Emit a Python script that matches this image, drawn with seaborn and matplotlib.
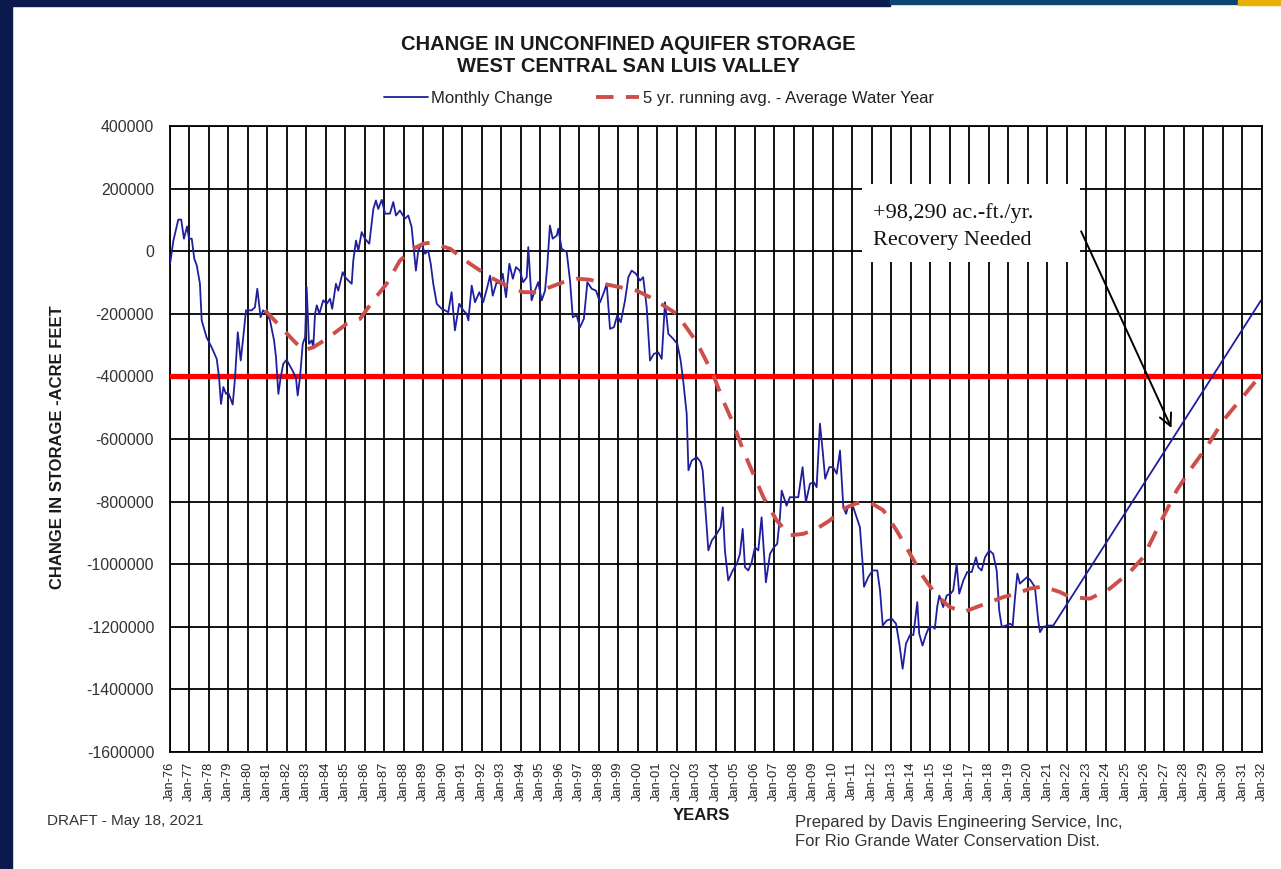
import matplotlib
matplotlib.use("Agg")
import matplotlib.pyplot as plt
import numpy as np
import pandas as pd
import seaborn as sns
from matplotlib.patches import Rectangle

# monthly change in storage (decimal year, acre-feet)
month_year = [
    1976.03, 1976.2, 1976.45, 1976.6, 1976.74, 1976.9, 1977.0, 1977.14, 1977.27, 1977.4,
    1977.56, 1977.65, 1977.9, 1978.16, 1978.42, 1978.54, 1978.64, 1978.76, 1978.9, 1979.0,
    1979.1, 1979.24, 1979.36, 1979.5, 1979.65, 1979.78, 1979.92, 1980.21, 1980.38, 1980.5,
    1980.67, 1980.8, 1981.0, 1981.15, 1981.36, 1981.46, 1981.58, 1981.7, 1981.83, 1982.0,
    1982.26, 1982.48, 1982.57, 1982.69, 1982.83, 1982.95, 1983.03, 1983.15, 1983.29, 1983.37,
    1983.46, 1983.55, 1983.68, 1983.88, 1984.06, 1984.23, 1984.34, 1984.53, 1984.65, 1984.88,
    1985.0, 1985.17, 1985.34, 1985.42, 1985.56, 1985.68, 1985.85, 1986.02, 1986.24, 1986.45,
    1986.58, 1986.7, 1986.88, 1987.05, 1987.3, 1987.47, 1987.61, 1987.81, 1988.07, 1988.24,
    1988.41, 1988.53, 1988.63, 1988.75, 1988.92, 1989.1, 1989.26, 1989.39, 1989.52, 1989.7,
    1989.95, 1990.12, 1990.29, 1990.46, 1990.63, 1990.85, 1991.06, 1991.23, 1991.32, 1991.49,
    1991.66, 1991.88, 1992.08, 1992.29, 1992.43, 1992.57, 1992.77, 1992.94, 1993.08, 1993.25,
    1993.42, 1993.6, 1993.76, 1993.96, 1994.13, 1994.31, 1994.39, 1994.56, 1994.73, 1994.9,
    1995.08, 1995.25, 1995.36, 1995.5, 1995.64, 1995.85, 1995.93, 1996.1, 1996.36, 1996.53,
    1996.67, 1996.87, 1997.04, 1997.24, 1997.42, 1997.64, 1997.86, 1998.07, 1998.27, 1998.41,
    1998.58, 1998.78, 1998.95, 1999.13, 1999.35, 1999.52, 1999.69, 1999.91, 2000.12, 2000.28,
    2000.46, 2000.63, 2000.83, 2001.05, 2001.23, 2001.4, 2001.57, 2001.82, 2002.03, 2002.2,
    2002.33, 2002.51, 2002.6, 2002.77, 2003.03, 2003.23, 2003.33, 2003.45, 2003.62, 2003.8,
    2004.05, 2004.25, 2004.36, 2004.47, 2004.64, 2004.87, 2005.08, 2005.24, 2005.38, 2005.5,
    2005.67, 2005.84, 2006.01, 2006.18, 2006.35, 2006.57, 2006.78, 2006.98, 2007.15, 2007.29,
    2007.38, 2007.63, 2007.8, 2008.23, 2008.45, 2008.62, 2008.83, 2009.03, 2009.17, 2009.34,
    2009.48, 2009.61, 2009.82, 2010.02, 2010.2, 2010.37, 2010.54, 2010.68, 2010.79, 2011.05,
    2011.22, 2011.39, 2011.53, 2011.6, 2011.82, 2012.04, 2012.28, 2012.42, 2012.56, 2012.76,
    2013.02, 2013.24, 2013.41, 2013.58, 2013.75, 2013.96, 2014.13, 2014.33, 2014.43, 2014.6,
    2014.77, 2014.94, 2015.12, 2015.23, 2015.35, 2015.46, 2015.66, 2015.84, 2016.04, 2016.17,
    2016.35, 2016.48, 2016.69, 2016.89, 2017.12, 2017.34, 2017.46, 2017.63, 2017.8, 2018.02,
    2018.22, 2018.4, 2018.53, 2018.66, 2018.88, 2019.08, 2019.22, 2019.34, 2019.46, 2019.59,
    2019.76, 2019.97, 2020.14, 2020.36, 2020.53, 2020.62, 2020.79, 2021.04, 2021.3, 2031.95,
]
monthly_change = [
    -40000, 34000, 101000, 101000, 40000, 79000, 40000, 40000, -24000, -46000,
    -104000, -221000, -275000, -307000, -344000, -403000, -488000, -434000, -456000, -450000,
    -466000, -490000, -403000, -259000, -349000, -275000, -189000, -189000, -179000, -120000,
    -211000, -189000, -200000, -221000, -285000, -339000, -456000, -403000, -360000, -347000,
    -376000, -403000, -461000, -403000, -296000, -275000, -115000, -296000, -285000, -307000,
    -200000, -173000, -200000, -157000, -168000, -152000, -184000, -104000, -126000, -67000,
    -83000, -94000, -104000, -30000, 34000, 2000, 61000, 40000, 24000, 135000,
    162000, 135000, 164000, 120000, 120000, 157000, 114000, 130000, 104000, 114000,
    77000, 2000, -62000, 2000, 24000, -8000, 2000, -40000, -104000, -168000,
    -184000, -189000, -195000, -131000, -253000, -168000, -189000, -200000, -221000, -110000,
    -163000, -131000, -163000, -115000, -78000, -142000, -99000, -104000, -72000, -147000,
    -40000, -88000, -51000, -62000, -99000, -83000, 13000, -157000, -126000, -99000,
    -157000, -126000, -51000, 82000, 40000, 50000, 72000, 8000, -3000, -94000,
    -211000, -205000, -243000, -216000, -99000, -120000, -126000, -163000, -131000, -104000,
    -248000, -243000, -205000, -227000, -157000, -83000, -62000, -72000, -94000, -83000,
    -179000, -349000, -328000, -323000, -344000, -163000, -264000, -280000, -296000, -349000,
    -413000, -519000, -700000, -669000, -658000, -674000, -700000, -807000, -956000, -924000,
    -903000, -882000, -818000, -956000, -1052000, -1020000, -999000, -967000, -887000, -1010000,
    -1020000, -994000, -946000, -956000, -850000, -1058000, -967000, -946000, -935000, -850000,
    -765000, -813000, -786000, -786000, -690000, -802000, -743000, -738000, -754000, -551000,
    -637000, -727000, -690000, -690000, -711000, -637000, -818000, -839000, -813000, -818000,
    -850000, -882000, -999000, -1072000, -1041000, -1020000, -1020000, -1084000, -1196000, -1180000,
    -1174000, -1190000, -1254000, -1334000, -1254000, -1226000, -1226000, -1121000, -1222000, -1260000,
    -1226000, -1200000, -1200000, -1206000, -1137000, -1100000, -1137000, -1100000, -1094000, -1084000,
    -999000, -1094000, -1052000, -1025000, -1025000, -978000, -1010000, -1020000, -978000, -956000,
    -967000, -1020000, -1148000, -1200000, -1196000, -1190000, -1196000, -1105000, -1030000, -1062000,
    -1052000, -1041000, -1052000, -1073000, -1180000, -1217000, -1200000, -1196000, -1196000, -157000,
]

# 5 yr running average, average water year projection
avg_year = [
    1980.9, 1982.35, 1982.86, 1983.37, 1984.06, 1985.08, 1985.77, 1986.45, 1987.13, 1987.81,
    1988.5, 1989.01, 1989.35, 1990.38, 1991.4, 1992.43, 1993.45, 1994.13, 1994.82, 1995.5,
    1996.18, 1996.87, 1997.55, 1998.23, 1999.09, 1999.95, 2000.63, 2001.31, 2002.0, 2003.02,
    2003.87, 2004.38, 2004.9, 2005.41, 2005.92, 2006.44, 2007.12, 2007.8, 2008.49, 2009.17,
    2009.85, 2010.54, 2011.22, 2011.9, 2012.59, 2013.27, 2013.96, 2014.64, 2015.32, 2016.0,
    2016.69, 2017.37, 2018.05, 2018.74, 2019.42, 2020.1, 2020.79, 2021.64, 2022.16, 2023.18,
    2024.2, 2025.23, 2025.91, 2026.76, 2027.62, 2028.3, 2029.16, 2030.01, 2030.86, 2032.0,
]
avg_value = [
    -189000, -285000, -317000, -307000, -280000, -232000, -216000, -157000, -104000, -30000,
    8000, 24000, 27000, 8000, -40000, -83000, -115000, -131000, -131000, -115000,
    -99000, -88000, -91000, -104000, -115000, -126000, -147000, -173000, -200000, -290000,
    -395000, -477000, -551000, -637000, -711000, -786000, -860000, -908000, -903000, -887000,
    -860000, -823000, -805000, -802000, -828000, -892000, -967000, -1041000, -1100000, -1137000,
    -1153000, -1137000, -1121000, -1105000, -1094000, -1078000, -1071000, -1089000, -1105000, -1110000,
    -1078000, -1025000, -978000, -871000, -765000, -700000, -626000, -541000, -477000, -391000,
]

target_level = -400000
years = list(range(1976, 2033))
year_labels = [f"Jan-{y % 100:02d}" for y in years]
y_ticks = list(range(-1600000, 400001, 200000))

monthly_df = pd.DataFrame({"year": month_year, "storage": monthly_change})
avg_df = pd.DataFrame({"year": avg_year, "storage": avg_value})

sns.set_style("white")
plt.rcParams["font.family"] = ["Liberation Sans", "DejaVu Sans"]

W, H = 1281, 869
fig = plt.figure(figsize=(W / 100, H / 100), dpi=100)
fig.patch.set_facecolor("white")


def fx(px):
    return px / W


def fy(py):
    return 1 - py / H


# screenshot frame
navy = "#0a1a4c"
fig.add_artist(Rectangle((0, 0), fx(12), 1, transform=fig.transFigure, color=navy, zorder=0))
fig.add_artist(Rectangle((0, fy(6)), fx(890), fy(0) - fy(6), transform=fig.transFigure, color=navy, zorder=0))
fig.add_artist(Rectangle((fx(890), fy(4)), fx(1238 - 890), fy(0) - fy(4), transform=fig.transFigure,
                         color="#0b4570", zorder=0))
fig.add_artist(Rectangle((fx(1238), fy(5)), fx(W - 1238), fy(0) - fy(5), transform=fig.transFigure,
                         color="#e9b104", zorder=0))

ax = fig.add_axes([fx(169.5), fy(752), fx(1262 - 169.5), fy(126) - fy(752)])

ax.axhline(target_level, color="#ff0000", lw=3.8, zorder=3)

sns.lineplot(data=monthly_df, x="year", y="storage", ax=ax, color="#1f1f9e", lw=1.3,
             estimator=None, sort=False, zorder=4, label="Monthly Change")
sns.lineplot(data=avg_df, x="year", y="storage", ax=ax, color="#cc4f4a", lw=2.8,
             estimator=None, sort=False, zorder=4, dashes=False,
             label="5 yr. running avg. - Average Water Year")
ax.lines[-1].set_dashes([4.5, 3.2])

ax.set_xlim(1976, 2032)
ax.set_ylim(-1600000, 400000)
ax.set_xticks(years)
ax.set_xticklabels(year_labels, rotation=90, fontsize=9.3, color="#222222")
ax.set_yticks(y_ticks)
ax.set_yticklabels([str(v) for v in y_ticks], fontsize=11.4, color="#333333")
ax.tick_params(axis="both", direction="out", length=5, width=1, color="black", pad=2)
ax.tick_params(axis="y", pad=6)
ax.grid(True, color="black", lw=1.3)
ax.set_axisbelow(True)
for spine in ax.spines.values():
    spine.set_color("black")
    spine.set_linewidth(1.3)

ax.set_xlabel("")
ax.set_ylabel("")
ax.get_legend().remove()

# legend row above the plot
leg = fig.legend(handles=ax.lines[1:3], labels=["Monthly Change", "5 yr. running avg. - Average Water Year"],
                 loc="center", bbox_to_anchor=(fx(659), fy(98)), ncol=2, frameon=False,
                 fontsize=12, handlelength=2.6, handletextpad=0.2, columnspacing=2.6,
                 labelcolor="#222222")

fig.text(fx(628), fy(44), "CHANGE IN UNCONFINED AQUIFER STORAGE", ha="center", va="center",
         fontsize=14.5, fontweight="bold", color="#1a1a1a")
fig.text(fx(628), fy(66), "WEST CENTRAL SAN LUIS VALLEY", ha="center", va="center",
         fontsize=14.5, fontweight="bold", color="#1a1a1a")
fig.text(fx(58), fy(447), "CHANGE IN STORAGE -ACRE FEET", ha="center", va="center", rotation=90,
         fontsize=12, fontweight="bold", color="#1a1a1a")
fig.text(fx(701), fy(815), "YEARS", ha="center", va="center", fontsize=12, fontweight="bold",
         color="#1a1a1a")
fig.text(fx(47), fy(821), "DRAFT - May 18, 2021", ha="left", va="center", fontsize=11,
         color="#333333")
fig.text(fx(795), fy(822), "Prepared by Davis Engineering Service, Inc,", ha="left", va="center",
         fontsize=12, color="#333333")
fig.text(fx(795), fy(842), "For Rio Grande Water Conservation Dist.", ha="left", va="center",
         fontsize=12, color="#333333")

# recovery annotation
ax.add_patch(Rectangle((2011.49, -36000), 11.18, 252000, facecolor="white", edgecolor="none",
                       zorder=5))
ax.text(2012.06, 123000, "+98,290 ac.-ft./yr.", fontsize=16, family="Liberation Serif",
        va="center", ha="left", color="#111111", zorder=6)
ax.text(2012.06, 34000, "Recovery Needed", fontsize=16, family="Liberation Serif",
        va="center", ha="left", color="#111111", zorder=6)
ax.annotate("", xy=(2027.42, -573000), xytext=(2022.67, 71600),
            arrowprops=dict(arrowstyle="->", color="black", lw=1.4, mutation_scale=22), zorder=6)

fig.savefig("out.png", dpi=100)
